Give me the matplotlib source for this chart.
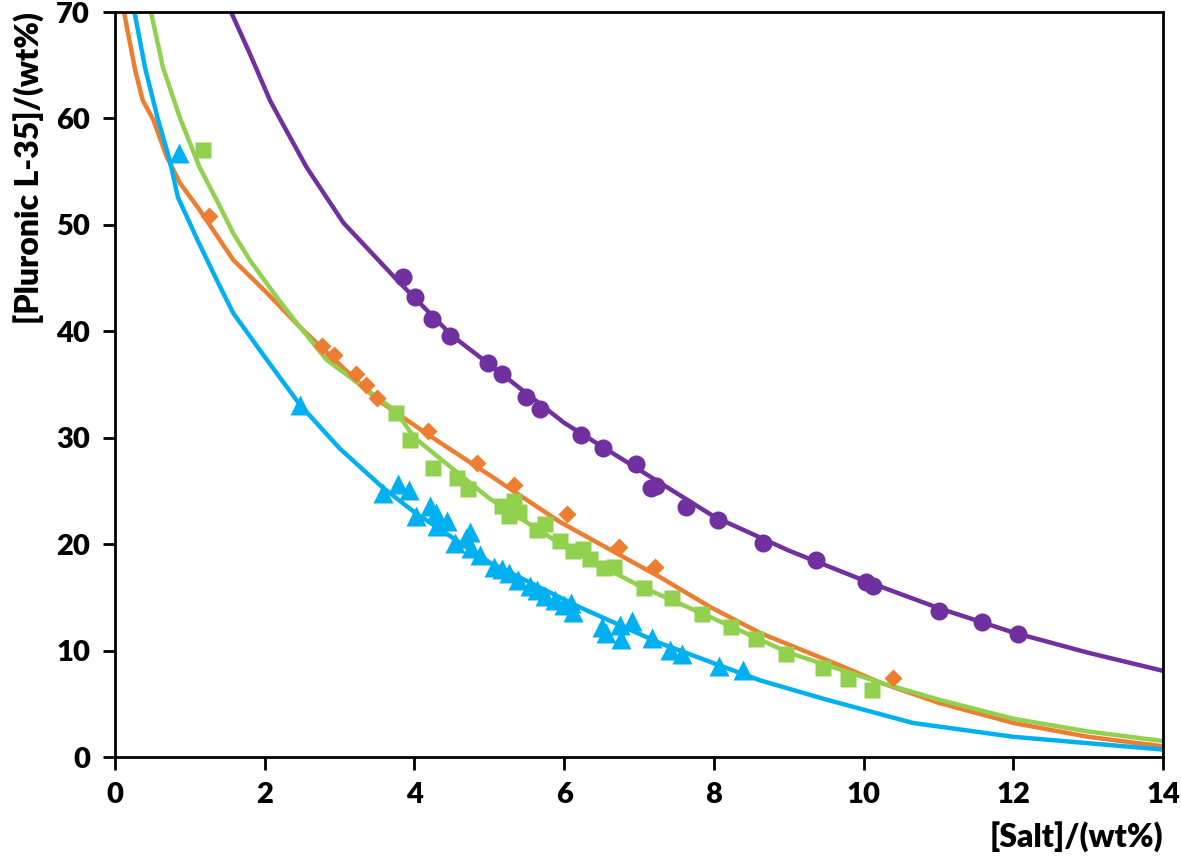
import matplotlib.pyplot as plt

plt.rcParams['font.family'] = ['Lato', 'DejaVu Sans']
plt.rcParams['font.weight'] = 'heavy'

salt_purple = [3.85, 4.01, 4.23, 4.48, 4.98, 5.17, 5.49, 5.68, 6.23, 6.52, 6.96, 7.16, 7.23,
               7.63, 8.06, 8.66, 9.36, 10.03, 10.13, 11.01, 11.58, 12.06]
plu_purple = [45.1, 43.2, 41.2, 39.6, 37.0, 36.0, 33.8, 32.7, 30.3, 29.0, 27.5, 25.3, 25.5,
              23.5, 22.3, 20.1, 18.5, 16.4, 16.1, 13.7, 12.7, 11.6]

salt_orange = [1.26, 2.77, 2.93, 3.22, 3.35, 3.50, 4.18, 4.83, 5.33, 6.04, 6.73, 7.21, 10.39]
plu_orange = [50.8, 38.6, 37.8, 36.0, 35.0, 33.7, 30.6, 27.6, 25.6, 22.8, 19.7, 17.9, 7.4]

salt_green = [1.18, 3.75, 3.94, 4.25, 4.57, 4.72, 5.17, 5.26, 5.33, 5.40, 5.64, 5.74, 5.94,
              6.12, 6.25, 6.35, 6.53, 6.66, 7.07, 7.44, 7.84, 8.23, 8.56, 8.96, 9.46, 9.79, 10.11]
plu_green = [57.0, 32.3, 29.8, 27.2, 26.2, 25.2, 23.6, 22.6, 24.1, 23.0, 21.3, 21.9, 20.3,
             19.4, 19.5, 18.6, 17.8, 17.9, 15.9, 14.9, 13.4, 12.2, 11.1, 9.7, 8.4, 7.3, 6.3]

salt_cyan = [0.86, 2.47, 3.58, 3.78, 3.93, 4.02, 4.21, 4.29, 4.30, 4.43, 4.54, 4.69, 4.74, 4.76,
             4.88, 5.06, 5.17, 5.26, 5.38, 5.54, 5.64, 5.74, 5.88, 6.00, 6.09, 6.12, 6.51, 6.56,
             6.76, 6.75, 6.91, 7.17, 7.41, 7.57, 8.07, 8.39]
plu_cyan = [56.8, 33.1, 24.8, 25.7, 25.1, 22.6, 23.6, 22.9, 21.7, 22.2, 20.1, 20.6, 21.1, 19.6,
            19.0, 17.9, 17.7, 17.3, 16.6, 16.1, 15.7, 15.1, 14.8, 14.3, 14.5, 13.6, 12.2, 11.7,
            11.1, 12.4, 12.8, 11.2, 10.1, 9.7, 8.6, 8.2]

# fitted curves
fit_x_purple = [1.55, 1.80, 2.07, 2.20, 2.56, 3.05, 3.77, 4.5, 5.0, 6.0, 7.0, 8.0, 9.0, 10.0,
                11.0, 12.0, 13.0, 14.0]
fit_y_purple = [70.0, 66.1, 61.7, 60.0, 55.4, 50.2, 44.8, 39.6, 36.9, 31.4, 27.0, 22.6, 19.4,
                16.6, 14.0, 11.7, 9.8, 8.1]

fit_x_orange = [0.12, 0.27, 0.37, 0.51, 0.69, 0.87, 1.13, 1.58, 2.03, 2.47, 2.83, 3.5, 4.2,
                5.0, 5.94, 7.28, 7.95, 8.62, 9.72, 10.22, 11.0, 12.0, 13.0, 14.0]
fit_y_orange = [70.0, 64.5, 61.7, 59.9, 56.4, 53.9, 51.4, 46.7, 43.6, 40.4, 38.0, 33.6, 30.2,
                26.5, 22.1, 16.9, 14.1, 11.65, 8.5, 7.0, 5.1, 3.2, 1.9, 1.0]

fit_x_green = [0.48, 0.64, 0.87, 1.13, 1.36, 1.58, 1.80, 2.16, 2.47, 2.83, 3.75, 4.0, 5.0, 6.0,
               7.0, 8.0, 9.0, 10.22, 11.0, 12.0, 13.0, 14.0]
fit_y_green = [70.0, 64.8, 60.0, 55.4, 52.3, 49.2, 46.7, 43.2, 40.4, 37.3, 32.5, 30.0, 24.3,
               19.8, 16.1, 13.0, 9.8, 7.0, 5.4, 3.6, 2.4, 1.5]

fit_x_cyan = [0.26, 0.40, 0.57, 0.73, 0.84, 1.10, 1.36, 1.58, 2.03, 2.47, 3.0, 3.58, 4.0, 5.0,
              6.2, 7.28, 8.08, 8.62, 9.5, 10.66, 12.0, 14.0]
fit_y_cyan = [70.0, 64.8, 60.0, 56.1, 52.6, 48.6, 44.8, 41.7, 37.3, 33.1, 29.0, 25.3, 23.0,
              18.3, 14.1, 10.7, 8.6, 7.2, 5.4, 3.2, 1.9, 0.7]

fig = plt.figure(figsize=(11.81, 8.64), dpi=100)
ax = fig.add_axes([0.0974, 0.1238, 0.8874, 0.8623])

lw = 3.2
ax.plot(fit_x_purple, fit_y_purple, color='#7030A0', lw=lw, zorder=2)
ax.plot(fit_x_orange, fit_y_orange, color='#ED7D31', lw=lw, zorder=2)
ax.plot(fit_x_green, fit_y_green, color='#92D050', lw=lw, zorder=2)
ax.plot(fit_x_cyan, fit_y_cyan, color='#00B0F0', lw=lw, zorder=2)

ax.plot(salt_purple, plu_purple, 'o', color='#7030A0', ms=13, mec='none', zorder=3)
ax.plot(salt_orange, plu_orange, 'D', color='#ED7D31', ms=9.5, mec='none', zorder=3)
ax.plot(salt_green, plu_green, 's', color='#92D050', ms=12, mec='none', zorder=3)
ax.plot(salt_cyan, plu_cyan, '^', color='#00B0F0', ms=14, mec='none', zorder=3)

ax.set_xlim(0, 14)
ax.set_ylim(0, 70)
ax.set_xticks(range(0, 15, 2))
ax.set_yticks(range(0, 71, 10))
for s in ax.spines.values():
    s.set_linewidth(2)
ax.tick_params(direction='out', length=9, width=2, labelsize=21, pad=9)
for lab in ax.get_xticklabels() + ax.get_yticklabels():
    lab.set_fontweight('heavy')

ax.set_xlabel('[Salt]/(wt%)', fontsize=23, fontweight='heavy', loc='right', labelpad=10)
ax.set_ylabel('[Pluronic L-35]/(wt%)', fontsize=23, fontweight='heavy', loc='top', labelpad=8)

fig.savefig('out.png', dpi=100)
